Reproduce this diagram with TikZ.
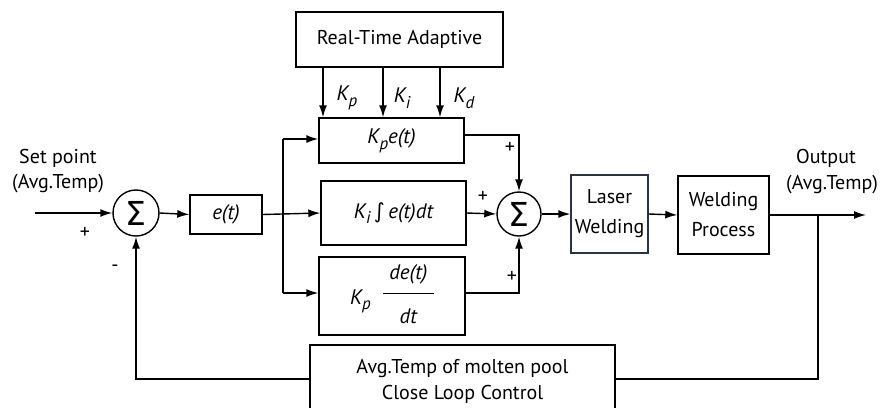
\documentclass[tikz,border=0pt]{standalone}
\usepackage{fontspec}
\setmainfont{PT Sans}
\newfontfamily\symfont{DejaVu Sans}
\usetikzlibrary{arrows.meta}
\definecolor{lwcol}{RGB}{40,52,66}
\newcommand\subx[1]{\raisebox{-0.55ex}{\fontsize{17}{17}\selectfont #1}}
\begin{document}
\begin{tikzpicture}[x=1pt,y=-1pt,font=\fontsize{20}{23}\selectfont,
  box/.style={draw,line width=1.4pt,inner sep=0pt,fill=white},
  sumc/.style={draw,circle,line width=1.4pt,minimum size=46pt,inner sep=0pt,font=\symfont\fontsize{33}{33}\selectfont},
  ln/.style={line width=1.4pt},
  arr/.style={line width=1.4pt,-{Latex[length=12pt,width=8pt]}},
  lbl/.style={inner sep=0pt},
  mth/.style={inner sep=0pt,font=\fontsize{21}{23}\selectfont\itshape}]
\useasboundingbox (0,0) rectangle (882,407);
\fill[white] (0,0) rectangle (882,407);
% blocks
\node[box,minimum width=207pt,minimum height=55pt] (rta) at (399.5,39.5) {Real-Time Adaptive};
\node[box,minimum width=145pt,minimum height=45pt,font=\fontsize{21}{23}\selectfont\itshape] (kp) at (391.5,140.5) {K\subx{p}e(t)};
\node[box,minimum width=145pt,minimum height=64pt,font=\fontsize{21}{23}\selectfont\itshape] (ki) at (393.5,213) {K\subx{i}\,{\symfont\upshape ∫}\,e(t)dt};
\node[box,minimum width=146pt,minimum height=78pt,text height=0pt,text depth=0pt,font=\fontsize{21}{23}\selectfont\itshape] (kd) at (392,296)
  {\raisebox{-8pt}{K\subx{p}}\hspace{12pt}\raisebox{-6pt}{\begin{tabular}{@{}c@{}}de(t)\\[-8pt]\rule{51pt}{1.4pt}\\[6pt]dt\end{tabular}}};
\node[box,minimum width=305pt,minimum height=72pt,align=center,font=\fontsize{20}{26}\selectfont] (fb) at (462.5,381)
  {Avg.Temp of molten pool\\Close Loop Control};
\node[sumc] (s1) at (136,213) {Σ};
\node[sumc,minimum size=44pt] (s2) at (519,214) {Σ};
\node[box,minimum width=72pt,minimum height=39pt,font=\fontsize{21}{23}\selectfont\itshape] (et) at (226,214.5) {e(t)};
\node[box,draw=lwcol,minimum width=77pt,minimum height=78pt,align=center,font=\fontsize{20}{30}\selectfont] (lw) at (609.5,214) {Laser\\Welding};
\node[box,minimum width=91pt,minimum height=78pt,align=center,font=\fontsize{20}{30}\selectfont] (wp) at (723.5,215) {Welding\\Process};
% texts
\node[lbl] (sp1) at (58,158) {Set point};
\node[lbl] (sp2) at (58,184) {(Avg.Temp)};
\node[lbl] (op1) at (826,158) {Output};
\node[lbl] (op2) at (832,185) {(Avg.Temp)};
\node[mth] (lkp) at (347,98) {K\subx{p}};
\node[mth] (lki) at (402,98) {K\subx{i}};
\node[mth] (lkd) at (464,98) {K\subx{d}};
\node[lbl] (pl1) at (85,233) {+};
\node[lbl] (mi1) at (115,268) {-};
\node[lbl] (pl2) at (510,148) {+};
\node[lbl] (pl3) at (483,197) {+};
\node[lbl] (pl4) at (512,277) {+};
% coordinates
\coordinate (k1) at (323,0);
\coordinate (k2) at (383,0);
\coordinate (k3) at (440,0);
\coordinate (in) at (35,213);
\coordinate (bt) at (283,139);
\coordinate (bb) at (283,293);
\coordinate (kpo) at (464,135);
\coordinate (kdo) at (465,293);
\coordinate (out) at (866,215);
\coordinate (tap) at (818,215);
\coordinate (fbr) at (818,379);
\coordinate (fbl) at (136,379);
% connectors
\draw[arr] (rta.south -| k1) -- (kp.north -| k1);
\draw[arr] (rta.south -| k2) -- (kp.north -| k2);
\draw[arr] (rta.south -| k3) -- (kp.north -| k3);
\draw[arr] (in) -- (s1.west);
\draw[arr] (s1.east) -- (et.west);
\draw[arr] (et.east) -- (ki.west);
\draw[ln] (bt) -- (bb);
\draw[arr] (bt) -- (bt -| kp.west);
\draw[arr] (bb) -- (bb -| kd.west);
\draw[arr] (kpo) -| (s2.north);
\draw[arr] (ki.east) -- (s2.west);
\draw[arr] (kdo) -| (s2.south);
\draw[arr] (s2.east) -- (lw.west);
\draw[arr] (lw.east) -- (wp.west);
\draw[arr] (wp.east) -- (out);
\draw[ln] (tap) -- (fbr) -- (fbr -| fb.east);
\draw[arr] (fbl -| fb.west) -- (fbl) -- (s1.south);
\end{tikzpicture}
\end{document}
